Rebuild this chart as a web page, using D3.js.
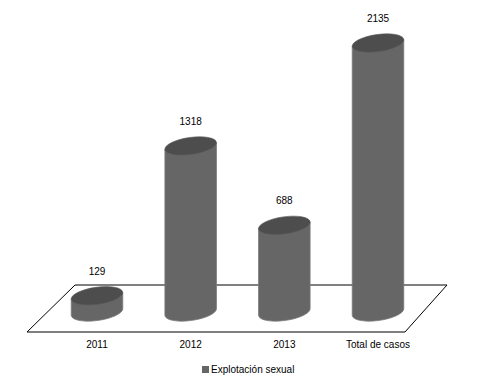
<!DOCTYPE html>
<html>
<head>
<meta charset="utf-8">
<script src="https://cdn.jsdelivr.net/npm/d3@7"></script>
<style>
  body { margin: 0; background: #fff; }
  text { font-family: "Liberation Sans", Arial, sans-serif; font-size: 10px; fill: #000; }
</style>
</head>
<body>
<div id="chart"></div>
<script>
// chart data
var categories = ["2011", "2012", "2013", "Total de casos"];
var values = [129, 1318, 688, 2135];
var seriesName = "Explotación sexual";

var width = 477, height = 381;

var svg = d3.select("#chart").append("svg")
    .attr("width", width)
    .attr("height", height);

// scales
var xScale = d3.scalePoint()
    .domain(categories)
    .range([97, 378]);

var yScale = d3.scaleLinear()
    .domain([0, 2135])
    .range([312, 43]);

// floor (parallelogram)
var backY = 285, frontY = 332;
var floor = svg.append("g");
floor.append("path")
    .attr("d", "M75," + backY + " L27," + frontY + " L405," + frontY + " L447," + backY + " Z")
    .attr("fill", "#fff")
    .attr("stroke", "none");
floor.append("line")
    .attr("x1", 75).attr("x2", 447).attr("y1", backY).attr("y2", backY)
    .attr("stroke", "#808080").attr("stroke-width", 2);
floor.append("path")
    .attr("d", "M75," + backY + " L27," + frontY + " L405," + frontY + " L447," + backY)
    .attr("fill", "none")
    .attr("stroke", "#000").attr("stroke-width", 1);

// cylinder geometry
var rx = 26, ry = 8.5, rot = -8;
var th = rot * Math.PI / 180;
// point on rotated ellipse where x is extreme
var t0 = Math.atan2(-ry * Math.sin(th), rx * Math.cos(th));
var ex = rx * Math.cos(t0) * Math.cos(th) - ry * Math.sin(t0) * Math.sin(th);
var ey = rx * Math.cos(t0) * Math.sin(th) + ry * Math.sin(t0) * Math.cos(th);
if (ex < 0) { ex = -ex; ey = -ey; }

function bodyPath(cx, topY, baseY) {
    // left tangent is (-ex,-ey), right tangent is (ex,ey)
    return "M" + (cx - ex) + "," + (topY - ey) +
        " L" + (cx - ex) + "," + (baseY - ey) +
        " A" + rx + "," + ry + " " + rot + " 0 0 " + (cx + ex) + "," + (baseY + ey) +
        " L" + (cx + ex) + "," + (topY + ey) + " Z";
}

var bars = svg.selectAll(".bar")
    .data(values)
    .enter().append("g")
    .attr("class", "bar");

bars.append("path")
    .attr("d", function(d, i) { return bodyPath(xScale(categories[i]), yScale(d), yScale(0)); })
    .attr("fill", "#666666")
    .attr("stroke", "#7a7a7a")
    .attr("stroke-width", 0.8);

bars.append("ellipse")
    .attr("cx", 0).attr("cy", 0)
    .attr("rx", rx).attr("ry", ry)
    .attr("transform", function(d, i) {
        return "translate(" + xScale(categories[i]) + "," + yScale(d) + ") rotate(" + rot + ")";
    })
    .attr("fill", "#4d4d4d")
    .attr("stroke", "#5a5a5a")
    .attr("stroke-width", 0.6);

// value labels
bars.append("text")
    .attr("x", function(d, i) { return xScale(categories[i]); })
    .attr("y", function(d) { return yScale(d) - 21; })
    .attr("text-anchor", "middle")
    .text(function(d) { return d; });

// category labels
svg.selectAll(".cat")
    .data(categories)
    .enter().append("text")
    .attr("class", "cat")
    .attr("x", function(d) { return xScale(d); })
    .attr("y", 348)
    .attr("text-anchor", "middle")
    .text(function(d) { return d; });

// legend
var legend = svg.append("g").attr("transform", "translate(202,366)");
legend.append("rect")
    .attr("width", 7).attr("height", 7)
    .attr("fill", "#666666");
legend.append("text")
    .attr("x", 9).attr("y", 7)
    .text(seriesName);
</script>
</body>
</html>
